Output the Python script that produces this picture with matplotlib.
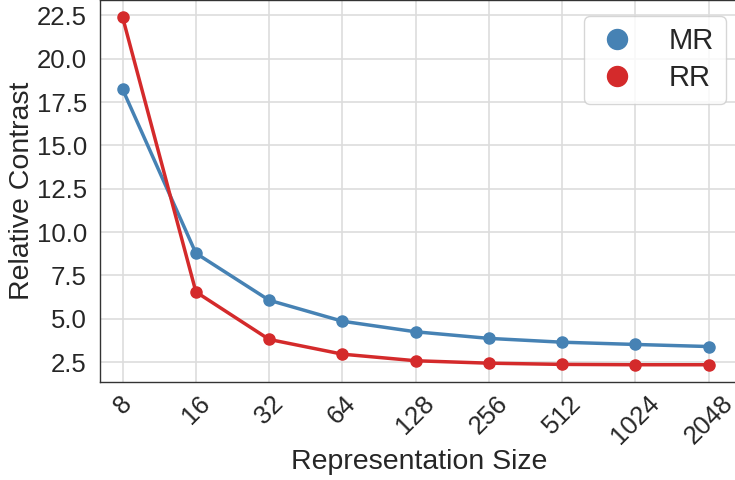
import numpy as np
import matplotlib
matplotlib.use("Agg")
import matplotlib.pyplot as plt
import seaborn as sns

sns.set_style("whitegrid")
plt.rcParams['font.family'] = ['Liberation Sans', 'DejaVu Sans']

# data
sizes = ["8", "16", "32", "64", "128", "256", "512", "1024", "2048"]
mr = [18.23, 8.78, 6.07, 4.86, 4.25, 3.87, 3.65, 3.52, 3.40]
rr = [22.38, 6.55, 3.81, 2.96, 2.58, 2.44, 2.37, 2.35, 2.35]

blue = "#4682b4"
red = "#d42a2b"

fig = plt.figure(figsize=(7.35, 4.8), dpi=100)
ax = fig.add_axes([0.136, 0.204, 0.87, 0.795])

x = np.arange(len(sizes))
ax.plot(x, mr, color=blue, lw=2.5, marker="o", ms=8, label="MR")
ax.plot(x, rr, color=red, lw=2.5, marker="o", ms=8, label="RR")

ax.set_xticks(x)
ax.set_xticklabels(sizes, rotation=45, fontsize=18.5)
ax.set_xlim(-0.31, 8.42)
ax.set_ylim(1.35, 23.36)
ax.set_yticks([2.5, 5.0, 7.5, 10.0, 12.5, 15.0, 17.5, 20.0, 22.5])
ax.tick_params(axis="y", labelsize=18.5, pad=6)
ax.tick_params(axis="x", pad=3)
ax.set_xlabel("Representation Size", fontsize=20.5, labelpad=0)
ax.set_ylabel("Relative Contrast", fontsize=20.5, labelpad=1)

for s in ["left", "bottom", "top"]:
    ax.spines[s].set_color("#333333")
    ax.spines[s].set_linewidth(1.0)
ax.spines["right"].set_visible(False)
ax.grid(color="#dddddd", lw=1.2)

leg = ax.legend(loc="upper right", fontsize=21, markerscale=1.8,
                handlelength=1.4, handletextpad=1.1, borderpad=0.4,
                labelspacing=0.3, framealpha=0.8, borderaxespad=0,
                bbox_to_anchor=(0.979, 0.96))
for h in leg.legend_handles:
    h.set_linestyle("")

fig.savefig("out.png", dpi=100)
